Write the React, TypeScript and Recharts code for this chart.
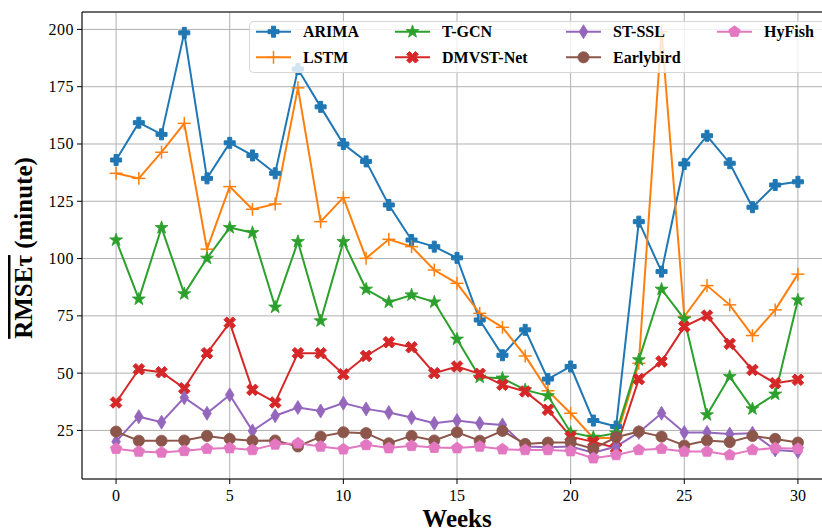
import React from "react";
import { LineChart, Line, XAxis, YAxis, CartesianGrid, ReferenceLine } from "recharts";

const weeks = [0, 1, 2, 3, 4, 5, 6, 7, 8, 9, 10, 11, 12, 13, 14, 15, 16, 17, 18, 19, 20, 21, 22, 23, 24, 25, 26, 27, 28, 29, 30];

const arima = [143, 159.3, 154.2, 198.5, 135, 150.5, 145, 137.2, 182.7, 166.2, 150, 142.4, 123.4, 108.1, 105.2, 100.3, 73.2, 57.8, 68.9, 47.4, 52.9, 29.3, 26.7, 116.1, 94.3, 141.3, 153.6, 141.6, 122.4, 132.1, 133.5];
const lstm = [137.2, 135, 146.4, 159, 104.1, 131.4, 121.5, 123.8, 174.5, 116.1, 126.6, 100.1, 108.4, 105.2, 95, 89.2, 76.1, 70, 57.5, 42.3, 32.5, 21.6, 21.8, 54.3, 199, 74.7, 88.2, 79.8, 66.4, 77.6, 93.2];
const tgcn = [108.1, 82.3, 113.5, 84.6, 100.1, 113.5, 111.3, 78.8, 107.4, 72.8, 107.4, 86.6, 81, 84.1, 81, 64.8, 48.2, 47.8, 42.7, 40.1, 24.1, 22, 23.8, 55.8, 86.6, 73.6, 31.8, 48.5, 34.4, 40.8, 81.9];
const dmvst = [37.2, 51.7, 50.4, 43.4, 58.7, 72, 42.7, 37.2, 58.7, 58.7, 49.5, 57.5, 63.5, 61.3, 50, 52.9, 49.7, 44.9, 42, 34, 22.3, 20, 17.3, 47.4, 55.1, 70.3, 75.1, 62.8, 51.4, 45.6, 47.1];
const stssl = [20.1, 31, 28.6, 39.3, 32.5, 40.5, 24.8, 31.4, 35, 33.5, 36.9, 34.4, 32.8, 30.6, 28.1, 29.3, 28.1, 27.4, 18, 17.7, 18, 15.3, 18, 24.1, 32.5, 24.1, 24.1, 23.4, 23.8, 16.5, 15.8];
const earlybird = [24.5, 20.5, 20.5, 20.6, 22.6, 21.3, 20.5, 20.6, 18, 22.3, 24.2, 23.8, 19.4, 22.6, 20.6, 24.2, 20.5, 24.8, 19.1, 19.7, 19.7, 17, 22, 24.5, 22.3, 18.4, 20.6, 19.9, 22.6, 21.3, 19.7];
const hyfish = [17, 15.8, 15.4, 16.1, 17, 17.3, 16.5, 18.9, 19.4, 18, 16.8, 18.7, 17.3, 18.3, 17.5, 17.3, 18, 16.8, 16.5, 16.5, 16, 12.9, 14.3, 16.5, 17, 15.8, 15.8, 14.3, 16.5, 17.3, 17];

const xTicks = [0, 5, 10, 15, 20, 25, 30];
const yTicks = [25, 50, 75, 100, 125, 150, 175, 200];

const series = [
  { key: "ARIMA", values: arima, color: "#1f77b4", marker: "P" },
  { key: "LSTM", values: lstm, color: "#ff7f0e", marker: "+" },
  { key: "T-GCN", values: tgcn, color: "#2ca02c", marker: "*" },
  { key: "DMVST-Net", values: dmvst, color: "#d62728", marker: "X" },
  { key: "ST-SSL", values: stssl, color: "#9467bd", marker: "d" },
  { key: "Earlybird", values: earlybird, color: "#8c564b", marker: "o" },
  { key: "HyFish", values: hyfish, color: "#e377c2", marker: "p" },
];

const data = weeks.map((w, i) => {
  const row: any = { week: w };
  series.forEach((s) => (row[s.key] = s.values[i]));
  return row;
});

const font = "'Liberation Serif', 'Times New Roman', serif";

const plusPts = (h: number, a: number) =>
  [[-a, -h], [a, -h], [a, -a], [h, -a], [h, a], [a, a], [a, h], [-a, h], [-a, a], [-h, a], [-h, -a], [-a, -a]];

const Marker = ({ kind, cx, cy, color }: any) => {
  if (cx == null || cy == null) return null;
  const toStr = (pts: number[][]) => pts.map((p) => `${cx + p[0]},${cy + p[1]}`).join(" ");
  switch (kind) {
    case "P":
      return <polygon points={toStr(plusPts(5.5, 2))} fill={color} stroke={color} strokeWidth={1} strokeLinejoin="round" />;
    case "X": {
      const c = Math.SQRT1_2;
      const pts = plusPts(6.2, 2).map(([x, y]) => [(x - y) * c, (x + y) * c]);
      return <polygon points={toStr(pts)} fill={color} stroke={color} strokeWidth={1} strokeLinejoin="round" />;
    }
    case "+":
      return (
        <g stroke={color} strokeWidth={1.5}>
          <line x1={cx - 6.5} y1={cy} x2={cx + 6.5} y2={cy} />
          <line x1={cx} y1={cy - 6.5} x2={cx} y2={cy + 6.5} />
        </g>
      );
    case "*": {
      const pts: number[][] = [];
      for (let k = 0; k < 10; k++) {
        const r = k % 2 === 0 ? 6.8 : 2.7;
        const ang = -Math.PI / 2 + (k * Math.PI) / 5;
        pts.push([r * Math.cos(ang), r * Math.sin(ang)]);
      }
      return <polygon points={toStr(pts)} fill={color} stroke={color} strokeWidth={0.8} />;
    }
    case "d":
      return <polygon points={toStr([[0, -7], [4.3, 0], [0, 7], [-4.3, 0]])} fill={color} stroke={color} strokeWidth={0.8} />;
    case "o":
      return <circle cx={cx} cy={cy} r={5.6} fill={color} stroke={color} strokeWidth={0.8} />;
    case "p": {
      const pts: number[][] = [];
      for (let k = 0; k < 5; k++) {
        const ang = -Math.PI / 2 + (k * 2 * Math.PI) / 5;
        pts.push([6 * Math.cos(ang), 6 * Math.sin(ang)]);
      }
      return <polygon points={toStr(pts)} fill={color} stroke={color} strokeWidth={0.8} />;
    }
  }
  return null;
};

const legendCols = [
  { x: 7, items: ["ARIMA", "LSTM"] },
  { x: 146, items: ["T-GCN", "DMVST-Net"] },
  { x: 317, items: ["ST-SSL", "Earlybird"] },
  { x: 468, items: ["HyFish"] },
];
const rowY = [10.7, 36.3];

const ChartLegend = () => (
  <svg width={600} height={53} style={{ position: "absolute", left: 249, top: 21, display: "block" }}>
    <rect x={0.5} y={0.5} width={590} height={51} rx={4} fill="#fff" fillOpacity={0.8} stroke="#d6d6d6" />
    {legendCols.map((col) =>
      col.items.map((name, r) => {
        const s = series.find((q) => q.key === name)!;
        const y = rowY[r];
        return (
          <g key={name}>
            <line x1={col.x} y1={y} x2={col.x + 35} y2={y} stroke={s.color} strokeWidth={2} />
            <Marker kind={s.marker} cx={col.x + 17.5} cy={y} color={s.color} />
            <text x={col.x + 47} y={y + 5.5} style={{ fontFamily: font }} fontWeight="bold" fontSize={16} fill="#000">
              {name}
            </text>
          </g>
        );
      })
    )}
  </svg>
);

const YTitle = () => (
  <text
    x={32}
    y={248}
    transform="rotate(-90, 32, 248)"
    textAnchor="middle"
    style={{ fontFamily: font }}
    fontWeight="bold"
    fontSize={25}
    fill="#000"
  >
    <tspan style={{ textDecoration: "overline" }}>RMSEτ</tspan> (minute)
  </text>
);

const XTitle = () => (
  <text x={457} y={527} textAnchor="middle" style={{ fontFamily: font }} fontWeight="bold" fontSize={25} fill="#000">
    Weeks
  </text>
);

const XTick = ({ x, y, payload }: any) => (
  <text x={x} y={y + 14} textAnchor="middle" style={{ fontFamily: font }} fontSize={16} fill="#000">
    {payload.value}
  </text>
);

const YTick = ({ x, y, payload }: any) => (
  <text x={x} y={y + 5.5} textAnchor="end" style={{ fontFamily: font, letterSpacing: "0.5px" }} fontSize={16} fill="#000">
    {payload.value}
  </text>
);

export default function App() {
  return (
    <div
      style={{ position: "absolute", left: 0, top: 0, width: 822, height: 532, overflow: "hidden", background: "#fff", fontFamily: font }}
    >
      <LineChart width={850} height={532} data={data} margin={{ top: 12, right: 18, bottom: 13, left: 0 }}>
        <CartesianGrid stroke="#b0b0b0" strokeWidth={1} />
        <XAxis
          dataKey="week"
          type="number"
          domain={[-1.5, 31.5]}
          ticks={xTicks}
          height={40}
          stroke="#000"
          tickSize={5}
          tickMargin={3}
          tick={<XTick />}
          label={<XTitle />}
        />
        <YAxis
          type="number"
          domain={[3.8, 207.6]}
          allowDataOverflow
          ticks={yTicks}
          width={82}
          stroke="#000"
          tickSize={5}
          tickMargin={3}
          tick={<YTick />}
          label={<YTitle />}
        />
        <ReferenceLine y={207.6} stroke="#000" strokeWidth={1} />
        {series.map((s) => (
          <Line
            key={s.key}
            dataKey={s.key}
            type="linear"
            stroke={s.color}
            strokeWidth={2}
            isAnimationActive={false}
            activeDot={false}
            dot={(p: any) => <Marker key={`${s.key}-${p.index}`} kind={s.marker} cx={p.cx} cy={p.cy} color={s.color} />}
          />
        ))}
      </LineChart>
      <ChartLegend />
    </div>
  );
}
